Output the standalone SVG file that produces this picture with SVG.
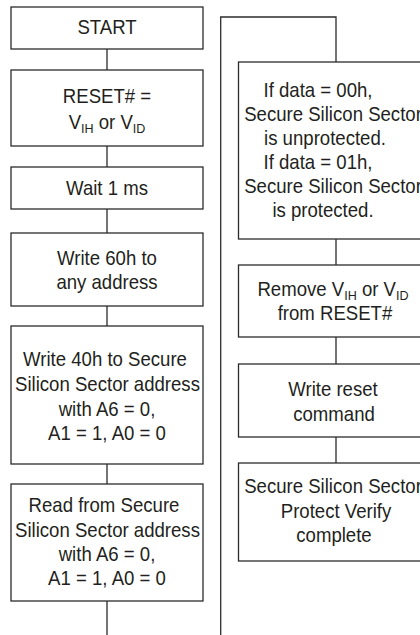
<svg xmlns="http://www.w3.org/2000/svg" width="420" height="635" viewBox="0 0 420 635">
<style>
.box{fill:#fff;stroke:#2b2b2b;stroke-width:1.3}
.ln{fill:none;stroke:#2b2b2b;stroke-width:1.3}
text{font-family:"Liberation Sans",Arial,Helvetica,sans-serif;font-size:20px;fill:#231f20;text-anchor:middle}
.sub{font-size:13.5px}
</style>
<rect width="420" height="635" fill="#fff"/>
<g id="connectors">
<path class="ln" d="M107 49V70M107 146V167M107 209V233M107 306V326M107 464V484M107 601V635"/>
<path class="ln" d="M220.7 635V17H336V62"/>
<path class="ln" d="M336 239V265M336 337V364M336 437V463"/>
</g>
<g id="start"><rect class="box" x="11" y="7" width="192" height="42"/><text transform="translate(107 34) scale(.93 1)">START</text></g>
<g id="reset"><rect class="box" x="11" y="70" width="192" height="76"/>
<text transform="translate(107 103) scale(.93 1)">RESET# =</text>
<text transform="translate(107 129) scale(.93 1)">V<tspan class="sub" dy="4">IH</tspan><tspan dy="-4"> or V</tspan><tspan class="sub" dy="4">ID</tspan></text></g>
<g id="wait"><rect class="box" x="11" y="167" width="192" height="42"/><text transform="translate(107 195) scale(.93 1)">Wait 1 ms</text></g>
<g id="write60"><rect class="box" x="11" y="233" width="192" height="73"/>
<text transform="translate(107 265) scale(.93 1)">Write 60h to</text><text transform="translate(107 289) scale(.93 1)">any address</text></g>
<g id="write40"><rect class="box" x="11" y="326" width="192" height="138"/>
<text transform="translate(105 366) scale(.93 1)">Write 40h to Secure</text>
<text transform="translate(107.5 391) scale(.93 1)">Silicon Sector address</text>
<text transform="translate(107 416) scale(.93 1)">with A6 = 0,</text>
<text transform="translate(107 440) scale(.93 1)">A1 = 1, A0 = 0</text></g>
<g id="read"><rect class="box" x="11" y="484" width="192" height="117"/>
<text transform="translate(104 512) scale(.93 1)">Read from Secure</text>
<text transform="translate(107.5 537) scale(.93 1)">Silicon  Sector address</text>
<text transform="translate(107 561) scale(.93 1)">with A6 = 0,</text>
<text transform="translate(107 585) scale(.93 1)">A1 = 1, A0 = 0</text></g>
<g id="ifdata"><rect class="box" x="238.5" y="62" width="196" height="177"/>
<text transform="translate(318 97) scale(.93 1)">If data = 00h,</text>
<text transform="translate(333 121) scale(.93 1)">Secure Silicon Sector</text>
<text transform="translate(325 145) scale(.93 1)">is unprotected.</text>
<text transform="translate(318 169) scale(.93 1)">If data = 01h,</text>
<text transform="translate(333 193) scale(.93 1)">Secure Silicon Sector</text>
<text transform="translate(323 217) scale(.93 1)">is protected.</text></g>
<g id="remove"><rect class="box" x="238.5" y="265" width="196" height="72"/>
<text transform="translate(333 296) scale(.93 1)">Remove V<tspan class="sub" dy="4">IH</tspan><tspan dy="-4"> or V</tspan><tspan class="sub" dy="4">ID</tspan></text>
<text transform="translate(335 320) scale(.93 1)">from RESET#</text></g>
<g id="writereset"><rect class="box" x="238.5" y="364" width="196" height="73"/>
<text transform="translate(333 396) scale(.93 1)">Write reset</text><text transform="translate(334 421) scale(.93 1)">command</text></g>
<g id="complete"><rect class="box" x="238.5" y="463" width="196" height="98"/>
<text transform="translate(333 493) scale(.93 1)">Secure Silicon Sector</text>
<text transform="translate(336 518) scale(.93 1)">Protect Verify</text>
<text transform="translate(334 542) scale(.93 1)">complete</text></g>
</svg>
